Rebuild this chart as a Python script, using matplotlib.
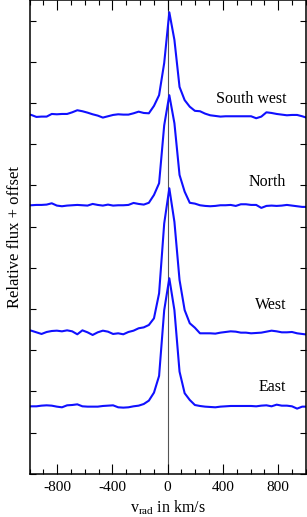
import matplotlib
matplotlib.use("Agg")
import matplotlib.pyplot as plt
from matplotlib.ticker import MultipleLocator

plt.rcParams['font.family'] = ['Liberation Serif', 'DejaVu Serif']
plt.rcParams['mathtext.fontset'] = 'custom'
plt.rcParams['mathtext.rm'] = 'Liberation Serif'
plt.rcParams['axes.unicode_minus'] = False

# Radialgeschwindigkeit (km/s)
vel = [-1024, -987, -950, -913, -876, -839, -802, -765, -728, -691,
       -654, -617, -580, -543, -506, -469, -432, -395, -358, -321,
       -284, -247, -210, -173, -136, -99, -62, -25, 12, 49,
       86, 123, 160, 197, 234, 271, 308, 345, 382, 419,
       456, 493, 530, 567, 604, 641, 678, 715, 752, 789,
       826, 863, 900, 937, 974, 1011]

# relative Flüsse (Kontinuum ~ 1)
flux_east = [1.000, 1.004, 1.004, 1.012, 1.016, 1.012, 1.000, 0.992, 1.016, 1.020,
             1.028, 1.004, 1.000, 1.000, 1.000, 1.008, 1.012, 1.016, 0.992, 0.988,
             0.992, 1.004, 1.012, 1.032, 1.073, 1.170, 1.373, 2.170, 2.558, 2.170,
             1.425, 1.163, 1.081, 1.020, 1.008, 1.000, 0.996, 0.992, 1.000, 1.004,
             1.008, 1.008, 1.008, 1.008, 1.008, 1.004, 1.012, 1.016, 1.004, 1.024,
             1.012, 1.012, 1.004, 0.976, 1.000, 1.000]
flux_west = [1.028, 1.020, 1.000, 0.980, 1.004, 1.016, 1.020, 1.012, 1.024, 1.012,
             0.976, 1.024, 1.000, 0.968, 1.000, 1.020, 1.008, 0.980, 0.988, 0.976,
             1.004, 1.020, 1.049, 1.060, 1.089, 1.170, 1.473, 2.320, 2.748, 2.340,
             1.635, 1.270, 1.110, 1.056, 0.988, 0.988, 0.988, 0.984, 0.996, 1.004,
             1.012, 1.008, 0.996, 0.996, 0.988, 0.992, 0.996, 1.008, 1.020, 1.012,
             1.000, 1.000, 1.004, 0.988, 0.980, 0.972]
flux_north = [1.000, 1.000, 1.004, 1.004, 1.008, 1.024, 0.996, 0.988, 0.996, 1.000,
              1.004, 1.000, 0.996, 1.016, 1.004, 0.996, 1.008, 0.996, 1.000, 1.000,
              1.004, 1.028, 1.016, 1.008, 1.030, 1.125, 1.267, 1.970, 2.336, 1.995,
              1.368, 1.165, 1.030, 1.020, 1.000, 0.992, 0.988, 0.992, 1.000, 1.000,
              1.004, 0.992, 1.012, 1.012, 1.004, 1.004, 0.968, 0.992, 0.996, 0.992,
              0.996, 1.004, 0.996, 0.988, 0.980, 0.980]
flux_sw = [1.012, 1.000, 0.976, 0.980, 0.980, 1.012, 1.008, 1.012, 1.012, 1.032,
           1.057, 1.045, 1.028, 1.008, 0.992, 0.968, 0.984, 1.000, 1.008, 1.004,
           1.004, 1.020, 1.040, 1.024, 1.020, 1.110, 1.240, 1.630, 2.246, 1.910,
           1.340, 1.180, 1.100, 1.050, 1.045, 1.016, 0.996, 0.988, 0.980, 0.984,
           0.984, 0.984, 0.984, 0.984, 0.984, 0.960, 0.980, 1.032, 1.024, 1.012,
           1.004, 0.996, 1.000, 1.000, 0.984, 0.964]

namen = ["East", "West", "North", "South west"]
offsets = [-0.184, 0.718, 2.260, 3.356]
label_y = [1.058, 2.05, 3.546, 4.55]
spektren = [flux_east, flux_west, flux_north, flux_sw]

fig = plt.figure(figsize=(3.07, 5.17), dpi=100)
ax = fig.add_axes([0.0961, 0.0834, 0.9, 0.9166])

ax.axvline(0, color="#555555", linewidth=0.8, zorder=1)

for name, off, ly, fl in zip(namen, offsets, label_y, spektren):
    ax.plot(vel, [f + off for f in fl], color="#1010ff", linewidth=1.5, zorder=2)
    ax.text(858, ly, name, ha="right", va="center", fontsize=11.5)

ax.set_xlim(-1000, 1000)
ax.set_ylim(0, 5.751)
ax.xaxis.set_major_locator(MultipleLocator(400))
ax.xaxis.set_minor_locator(MultipleLocator(100))
ax.yaxis.set_major_locator(MultipleLocator(0.5))
ax.set_yticklabels([])
ax.tick_params(axis="x", which="major", direction="in", length=7, width=0.8,
               top=True, bottom=True, labelsize=11, pad=5)
ax.tick_params(axis="x", which="minor", direction="in", length=3.5, width=0.8,
               top=True, bottom=True)
ax.tick_params(axis="y", which="major", direction="in", length=4.5, width=0.8,
               left=True, right=True, labelleft=False)
for s in ax.spines.values():
    s.set_linewidth(1.1)

ax.set_xlabel(r"v$_{\mathrm{rad}}$ in km/s", fontsize=11.5, labelpad=3)
ax.set_ylabel("Relative flux + offset", fontsize=12, labelpad=5)

fig.savefig("out.png", dpi=100)
